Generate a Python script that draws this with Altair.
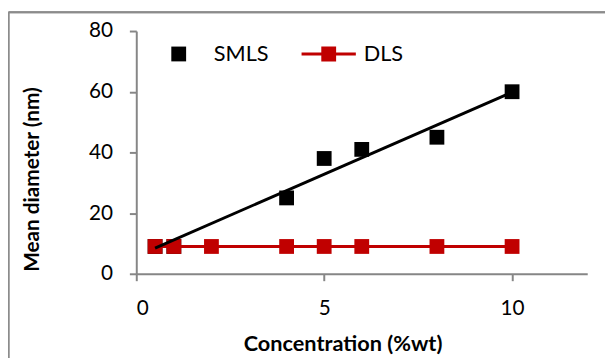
import altair as alt
import pandas as pd

# SMLS series
smls_x = [0.5, 1, 4, 5, 6, 8, 10]
smls_y = [9, 9, 25, 38, 41, 45, 60]
# DLS series
dls_x = [0.5, 1, 2, 4, 5, 6, 8, 10]
dls_y = [9, 9, 9, 9, 9, 9, 9, 9]

series_names = ["SMLS", "DLS"]
series_colors = ["#000000", "#C00000"]
x_ticks = [0, 5, 10]
y_ticks = [0, 20, 40, 60, 80]

smls = pd.DataFrame({"x": smls_x, "y": smls_y})
dls = pd.DataFrame({"x": dls_x, "y": dls_y})
leg = pd.DataFrame({"series": series_names, "x": [0, 0], "y": [0, 0]})

FONT = "Lato"
AXC = "#868686"

xenc = alt.X("x:Q", scale=alt.Scale(domain=[0, 12], nice=False),
             axis=alt.Axis(values=x_ticks, title="Concentration (%wt)", grid=False,
                           titleX=209, titleY=78, titleBaseline="alphabetic",
                           titleFontSize=22))
yenc = alt.Y("y:Q", scale=alt.Scale(domain=[0, 80], nice=False),
             axis=alt.Axis(values=y_ticks, title="Mean diameter (nm)", grid=False,
                           titleX=-105, titleY=150, titleAngle=270,
                           titleBaseline="middle", titleAlign="center",
                           titleFontSize=21))

trend = alt.Chart(smls).transform_regression("x", "y", extent=[0.5, 10]).mark_line(
    color="#000000", strokeWidth=3).encode(x=xenc, y=yenc)

smls_pts = alt.Chart(smls).mark_square(size=225, opacity=1, color="#000000").encode(x=xenc, y=yenc)

dls_line = alt.Chart(dls).mark_line(color="#C00000", strokeWidth=3).encode(x=xenc, y=yenc)
dls_pts = alt.Chart(dls).mark_square(size=225, opacity=1, color="#C00000").encode(x=xenc, y=yenc)

sq = "M-0.273,-0.273H0.273V0.273H-0.273Z"
ln = "M-1,-0.055H1V0.055H-1Z M-0.273,-0.273H0.273V0.273H-0.273Z"

legend_props = dict(title=None, orient="none", legendX=15.5, legendY=-4.5,
                    direction="horizontal", symbolSize=3025,
                    labelFont=FONT, labelFontSize=22, labelColor="#000000",
                    labelOffset=8, columnPadding=33, padding=0,
                    symbolStrokeWidth=0)

legend_layer = alt.Chart(leg).transform_filter("false").mark_point(
    filled=True, opacity=1).encode(
    x=xenc, y=yenc,
    color=alt.Color("series:N", scale=alt.Scale(domain=series_names, range=series_colors),
                    legend=alt.Legend(**legend_props)),
    shape=alt.Shape("series:N", scale=alt.Scale(domain=series_names, range=[sq, ln]),
                    legend=alt.Legend(**legend_props)),
)

border_left = alt.Chart(leg).mark_rule(color="#8c8c8c", strokeWidth=2).encode(
    x=alt.value(-129.5), y=alt.value(-19), y2=alt.value(400))
border_top = alt.Chart(leg).mark_rule(color="#8c8c8c", strokeWidth=2).encode(
    x=alt.value(-129.5), x2=alt.value(600), y=alt.value(-19))

chart = alt.layer(border_left, border_top, smls_pts, dls_line, dls_pts, trend, legend_layer).properties(
    width=457, height=246,
    autosize=alt.AutoSizeParams(type="none"),
    padding={"left": 130, "top": 21, "right": 18, "bottom": 83},
).configure_view(stroke=None).configure_axis(
    domainColor=AXC, domainWidth=2, tickColor=AXC, tickWidth=2, tickSize=7,
    labelFont=FONT, labelFontSize=21, labelColor="#000000", labelPadding=17,
    titleFont=FONT, titleFontSize=21, titleFontWeight="bold", titleColor="#000000",
).configure_axisX(labelPadding=17)

chart.save("out.html", embed_options={"renderer": "svg", "actions": False})
